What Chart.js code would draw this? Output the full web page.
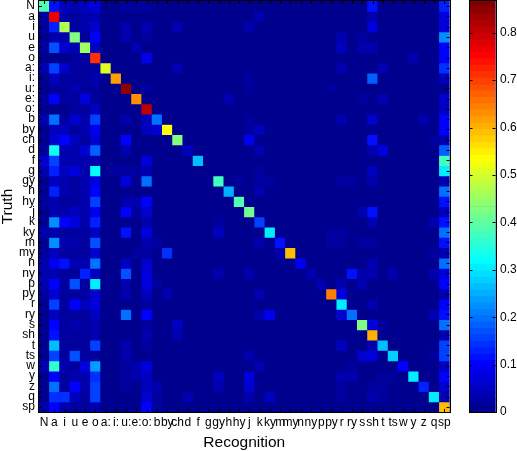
<!DOCTYPE html>
<html>
<head>
<meta charset="utf-8">
<style>
html,body{margin:0;padding:0;background:#fff;width:517px;height:451px;overflow:hidden}
canvas{position:absolute;left:0;top:0}
</style>
<script src="https://cdn.jsdelivr.net/npm/chart.js@4/dist/chart.umd.min.js"></script>
</head>
<body>
<canvas id="map" width="517" height="451"></canvas>
<canvas id="bar" width="517" height="451"></canvas>
<script>
const categories = ["N","a","i","u","e","o","a:","i:","u:","e:","o:","b","by","ch","d","f","g","gy","h","hy","j","k","ky","m","my","n","ny","p","py","r","ry","s","sh","t","ts","w","y","z","q","sp"];
const colorTicks = [0,0.1,0.2,0.3,0.4,0.5,0.6,0.7,0.8];
const colorMax = 0.867;
const levelCount = 64;

const rowN  = [.38,.12,.05,.04,.05,.08,.01,.01,.02,.02, .02,.01,0,0,0,0,0,0,0,0, 0,0,0,0,0,0,0,0,0,0, 0,0,.11,0,0,0,0,0,0,.13];
const rowA  = [.02,.77,.03,.015,.03,.03,.01,.01,.01,.01, .01,0,0,0,0,0,0,0,0,0, 0,.03,0,0,0,0,0,0,0,0, 0,0,.04,0,0,0,0,0,0,.07];
const rowI  = [.02,.13,.47,.02,.03,.06,.01,.01,.04,.01, .03,.01,0,.03,0,0,0,0,0,0, .03,0,0,0,0,0,0,0,0,0, 0,0,.08,0,0,0,0,0,0,.07];
const rowU  = [.01,.04,.04,.43,.02,.1,.01,.01,.04,0, .02,0,0,0,0,0,0,0,0,0, 0,0,0,0,0,0,0,0,0,.03, 0,.02,0,0,0,0,0,0,0,.22];
const rowE  = [.02,.17,.06,.03,.45,.05,.01,.01,.01,.03, .01,0,0,0,0,0,0,0,0,0, 0,0,0,0,0,0,0,0,0,.05, 0,.03,.03,0,0,0,0,0,0,.1];
const rowO  = [.01,.01,.01,.02,.02,.71,.01,.01,.01,.01, .09,0,0,0,0,0,0,0,0,0, 0,0,0,0,0,0,0,0,0,0, 0,0,0,0,0,0,.03,0,0,.1];
const rowAA = [.03,.16,.06,.015,.02,.02,.51,.01,.01,.01, .01,0,0,.03,0,0,0,0,0,0, 0,0,0,0,0,0,0,0,0,.03, 0,0,0,.03,0,0,0,0,0,.14];
const rowII = [.01,.05,.015,.015,.02,.03,.01,.61,.01,.01, .01,0,0,0,0,0,0,0,0,0, .025,0,0,0,0,0,0,0,0,0, 0,0,.18,0,0,0,0,0,0,.05];
const rowUU = [.01,.015,.015,.03,.015,.02,.01,.01,.85,.01, .02,0,0,0,0,0,0,0,0,0, .02,0,0,0,0,0,0,0,.02,0, 0,0,0,0,0,0,0,0,0,.01];
const rowEE = [.015,.1,.02,.015,.07,.02,.01,.01,.01,.63, .01,0,0,0,0,0,0,0,.04,0, 0,0,0,0,0,0,0,0,0,0, 0,.025,0,.03,0,0,0,0,0,.06];
const rowOO = [.01,.01,.01,.015,.015,.05,.01,.01,.01,.01, .8,0,0,0,0,0,0,0,0,0, 0,0,0,0,0,0,0,0,0,0, 0,0,0,0,0,0,0,0,0,.05];
const rowB  = [.03,.2,.02,.06,.03,.15,.01,.01,.03,.01, .05,.2,0,0,0,0,0,0,0,0, .025,0,0,0,0,0,0,0,0,.04, 0,0,.06,0,0,0,0,.03,0,.1];
const rowBY = [.01,.05,.05,.02,.03,.09,.01,.01,.01,.01, .05,.06,.54,0,0,0,0,0,0,0, .02,.05,0,0,0,0,0,0,0,0, 0,0,0,0,0,0,0,0,0,.1];
const rowCH = [.01,.06,.1,.05,.015,.06,.01,.01,.1,.01, .01,.01,0,.43,0,0,0,0,0,0, .09,0,0,0,0,0,0,0,0,0, 0,0,.11,0,0,0,0,0,.02,.03];
const rowD  = [.02,.33,.03,.04,.06,.18,.01,.01,.03,.01, .01,0,0,0,.05,0,0,0,0,0, 0,.03,0,0,0,0,0,0,0,0, 0,0,.03,.07,0,0,0,0,0,.18];
const rowF  = [.06,.15,.03,.03,.03,.04,.01,.01,.01,.01, .07,0,0,0,0,.27,0,0,0,0, 0,0,0,0,0,0,0,0,0,0, 0,0,0,0,0,0,0,0,0,.37];
const rowG  = [.03,.13,.05,.07,.03,.32,.01,.015,.015,.02, .03,.01,0,0,0,0,0,0,0,0, 0,.025,0,0,0,0,0,0,0,0, 0,0,.05,0,0,0,0,0,0,.31];
const rowGY = [.01,.05,.04,.02,.03,.08,.01,.01,.07,.01, .2,0,0,0,0,0,0,.37,0,.02, 0,.02,.02,0,0,0,0,0,0,.02, .02,0,.03,0,0,0,0,0,0,.03];
const rowH  = [.01,.13,.04,.02,.03,.1,.01,.01,.01,.01, .01,0,0,0,0,0,0,0,.25,0, 0,.04,0,0,0,0,0,0,0,0, 0,0,0,0,0,0,0,0,0,.2];
const rowHY = [.02,.03,.02,.02,.03,.15,.01,.01,.03,.03, .1,0,0,0,0,0,0,0,0,.39, 0,0,0,0,0,0,0,0,0,0, 0,0,0,0,0,0,0,0,0,.12];
const rowJ  = [.01,.03,.04,.05,.03,.09,.01,.01,.1,.02, .06,0,0,0,0,0,0,0,0,0, .41,0,0,0,0,0,0,0,0,0, 0,.03,.11,0,0,0,0,0,0,.05];
const rowK  = [.01,.22,.1,.08,.03,.13,.01,.01,.01,.01, .04,0,0,0,0,0,0,.02,0,0, 0,.16,0,0,0,0,0,0,0,0, 0,0,.04,0,0,0,0,0,.03,.12];
const rowKY = [.03,.04,.02,.02,.02,.05,.01,.01,.12,.01, .08,0,0,0,0,0,0,.05,0,0, 0,0,.3,0,0,0,0,0,.02,.02, 0,0,0,0,0,0,0,0,0,.2];
const rowM  = [.01,.22,.03,.04,.015,.17,.01,.01,.01,.01, .03,.02,0,0,0,0,0,0,0,0, 0,.03,0,.11,0,0,0,0,.02,.02, 0,.025,.025,0,0,0,0,0,0,.12];
const rowMY = [.02,.05,.015,.02,.02,.06,.01,.01,.01,.015, .02,0,.14,0,0,0,0,0,0,0, 0,0,0,.03,.59,0,0,0,0,0, 0,0,0,0,0,0,0,0,.02,.03];
const rowNN = [.03,.09,.11,.03,.03,.2,.01,.01,.05,.01, .06,0,0,0,0,0,0,0,0,0, 0,0,0,0,0,.09,0,0,0,0, 0,0,.03,0,0,0,0,0,0,.2];
const rowNY = [.03,.04,.02,.02,.13,.05,.01,.01,.17,.01, .08,0,0,0,0,0,0,.03,0,0, .03,0,0,0,0,0,.03,0,0,0, .12,.03,.04,0,.03,0,0,0,.03,.07];
const rowP  = [.04,.1,.02,.17,.02,.31,.01,.01,.03,.01, .08,.02,0,0,0,0,0,0,0,0, 0,0,0,0,0,0,0,.04,0,.04, 0,.03,0,0,0,0,0,0,0,.1];
const rowPY = [.02,.06,.015,.015,.015,.06,.01,.01,.04,.01, .05,.01,.03,0,0,0,0,0,0,0, 0,.03,0,0,0,0,0,0,.64,.08, 0,0,0,0,0,0,0,0,0,.03];
const rowR  = [.01,.15,.02,.1,.05,.08,.01,.01,.01,.01, .02,0,0,0,0,0,0,0,0,0, 0,0,0,0,0,0,0,0,0,.31, 0,0,.03,0,0,0,0,0,0,.1];
const rowRY = [.01,.05,.02,.02,.02,.05,.01,.01,.2,.01, .1,0,0,0,0,0,0,0,0,0, 0,.03,.09,0,0,0,0,0,0,.06, .2,0,0,0,0,0,0,0,.03,.12];
const rowS  = [.01,.1,.02,.03,.015,.04,.01,.01,.01,.01, .02,0,0,.05,0,0,0,0,0,0, 0,0,0,0,0,0,0,0,0,0, 0,.42,.07,.02,0,0,0,0,0,.2];
const rowSH = [.01,.12,.015,.02,.015,.04,.01,.01,.01,.01, .04,0,0,.04,0,0,0,0,0,0, 0,0,0,0,0,0,0,0,0,0, 0,0,.6,0,0,0,0,0,0,.03];
const rowT  = [.01,.26,.015,.015,.015,.15,.01,.01,.03,.01, .02,0,0,0,0,0,0,0,0,0, 0,0,0,0,0,0,0,0,0,.05, 0,0,.03,.26,0,0,0,0,0,.16];
const rowTS = [.01,.16,.015,.17,.015,.015,.01,.01,.03,.01, .01,0,0,0,0,0,0,0,0,0, .04,0,0,0,0,0,0,0,0,0, 0,.06,.08,0,.28,0,0,0,.02,.15];
const rowW  = [.03,.36,.03,.02,.08,.24,.01,.01,.02,.03, .08,0,0,0,0,0,0,0,0,0, 0,.03,0,0,0,0,0,0,0,0, .02,0,0,0,0,.1,0,0,0,.05];
const rowY  = [.01,.1,.02,.04,.04,.14,.01,.01,.015,.04, .05,0,0,0,0,0,0,.05,0,0, .07,0,0,0,0,0,0,0,0,.04, .04,0,0,.015,.02,0,.3,0,0,.1];
const rowZ  = [.01,.2,.02,.1,.04,.15,.01,.01,.02,.01, .05,.03,0,0,0,0,0,.03,0,0, .06,0,0,0,0,0,0,0,0,.02, 0,0,.02,.02,0,0,0,.13,0,.06];
const rowQ  = [.01,.14,.14,.05,.02,.15,.01,.01,.01,.01, .06,.02,0,0,.03,0,0,0,0,0, .03,0,.05,0,0,0,0,0,0,.02, 0,0,.04,.02,0,0,0,0,.3,.03];
const rowSP = [.04,.1,.03,.02,.02,.03,.01,.01,.01,.01, .1,.015,.01,0,0,0,0,0,0,0, 0,0,0,0,0,0,0,0,0,0, 0,0,0,0,0,0,0,0,0,.59];
const rows = [rowN,rowA,rowI,rowU,rowE,rowO,rowAA,rowII,rowUU,rowEE,rowOO,rowB,rowBY,rowCH,rowD,rowF,rowG,rowGY,rowH,rowHY,rowJ,rowK,rowKY,rowM,rowMY,rowNN,rowNY,rowP,rowPY,rowR,rowRY,rowS,rowSH,rowT,rowTS,rowW,rowY,rowZ,rowQ,rowSP];

const FONT = '"Liberation Sans", Arial, sans-serif';
const clamp = v => Math.max(0, Math.min(1, v));
function jet(level){
  const t = (level + 1) / levelCount;
  const r = clamp(1.5 - Math.abs(4*t - 3));
  const g = clamp(1.5 - Math.abs(4*t - 2));
  const b = clamp(1.5 - Math.abs(4*t - 1));
  return `rgb(${Math.round(r*255)},${Math.round(g*255)},${Math.round(b*255)})`;
}
const colorOf = v => jet(Math.min(levelCount - 1, Math.floor(v / colorMax * levelCount)));
const noPad = s => { s.paddingLeft = s.paddingRight = s.paddingTop = s.paddingBottom = 0; };

const frame = {
  id: 'frame',
  beforeDatasetsDraw(chart){
    const {ctx, chartArea: a} = chart;
    ctx.save();
    ctx.fillStyle = jet(0);
    ctx.fillRect(a.left, a.top, a.right - a.left, a.bottom - a.top);
    ctx.restore();
  },
  afterDatasetsDraw(chart, args, opts){
    const {ctx, chartArea: a, scales} = chart;
    const len = opts.len;
    ctx.save();
    ctx.strokeStyle = '#000';
    ctx.lineWidth = 1;
    ctx.beginPath();
    if (scales.x && scales.x.options.display) {
      for (let i = 0; i < categories.length; i++) {
        const x = Math.round(scales.x.getPixelForValue(i)) + .5;
        ctx.moveTo(x, a.top); ctx.lineTo(x, a.top + len);
        ctx.moveTo(x, a.bottom); ctx.lineTo(x, a.bottom - len);
      }
    }
    scales.y.ticks.forEach(t => {
      const y = Math.round(scales.y.getPixelForValue(t.value)) + .5;
      ctx.moveTo(a.left, y); ctx.lineTo(a.left + len, y);
      ctx.moveTo(a.right, y); ctx.lineTo(a.right - len, y);
    });
    ctx.stroke();
    ctx.strokeRect(Math.round(a.left) - .5, Math.round(a.top) - .5, Math.round(a.right - a.left) + 1, Math.round(a.bottom - a.top) + 1);
    ctx.restore();
  }
};

new Chart(document.getElementById('map'), {
  type: 'bar',
  plugins: [frame],
  data: {
    labels: categories,
    datasets: rows.map((row, r) => ({
      label: categories[r],
      data: row.map(() => [r, r + 1.05]),
      backgroundColor: row.map(colorOf),
      borderWidth: 0,
      barPercentage: 1.03,
      categoryPercentage: 1,
      grouped: false
    }))
  },
  options: {
    responsive: false,
    animation: false,
    layout: {padding: {left: 0, top: 1, right: 67.5, bottom: 0}},
    plugins: {legend: {display: false}, tooltip: {enabled: false}, frame: {len: 3}},
    scales: {
      x: {
        afterFit(s){ s.height = 39; noPad(s); },
        grid: {display: false, drawTicks: false},
        border: {display: false},
        ticks: {autoSkip: false, maxRotation: 0, minRotation: 0, padding: 3, color: '#000', font: {family: FONT, size: 12}},
        title: {display: true, text: 'Recognition', color: '#000', font: {family: FONT, size: 15.5, lineHeight: 1.1}, padding: {top: 0, bottom: 0}}
      },
      y: {
        type: 'linear', min: 0, max: categories.length, reverse: true,
        afterFit(s){ s.width = 39; noPad(s); },
        afterBuildTicks(s){ s.ticks = categories.map((c, i) => ({value: i + .5})); },
        grid: {display: false, drawTicks: false},
        border: {display: false},
        ticks: {
          autoSkip: false, padding: 4, color: '#000', font: {family: FONT, size: 12},
          callback: v => categories[Math.floor(v)]
        },
        title: {display: true, text: 'Truth', color: '#000', font: {family: FONT, size: 15.5, lineHeight: 1}, padding: {top: 0, bottom: 0}}
      }
    }
  }
});

const levels = Array.from({length: levelCount}, (_, i) => i);
new Chart(document.getElementById('bar'), {
  type: 'bar',
  plugins: [frame],
  data: {
    labels: [''],
    datasets: levels.map(l => ({
      data: [[l * colorMax / levelCount, (l + 1) * colorMax / levelCount]],
      backgroundColor: jet(l),
      borderWidth: 0,
      barPercentage: 1,
      categoryPercentage: 1,
      grouped: false
    }))
  },
  options: {
    responsive: false,
    animation: false,
    layout: {padding: {left: 469.5, top: 1, right: 0, bottom: 39}},
    plugins: {legend: {display: false}, tooltip: {enabled: false}, frame: {len: 3}},
    scales: {
      x: {display: false},
      y: {
        position: 'right',
        min: 0, max: colorMax,
        afterFit(s){ s.width = 21.5; noPad(s); },
        afterBuildTicks(s){ s.ticks = colorTicks.map(v => ({value: v})); },
        grid: {display: false, drawTicks: false},
        border: {display: false},
        ticks: {autoSkip: false, padding: 4.5, color: '#000', font: {family: FONT, size: 12}, callback: v => String(v)}
      }
    }
  }
});
</script>
</body>
</html>
